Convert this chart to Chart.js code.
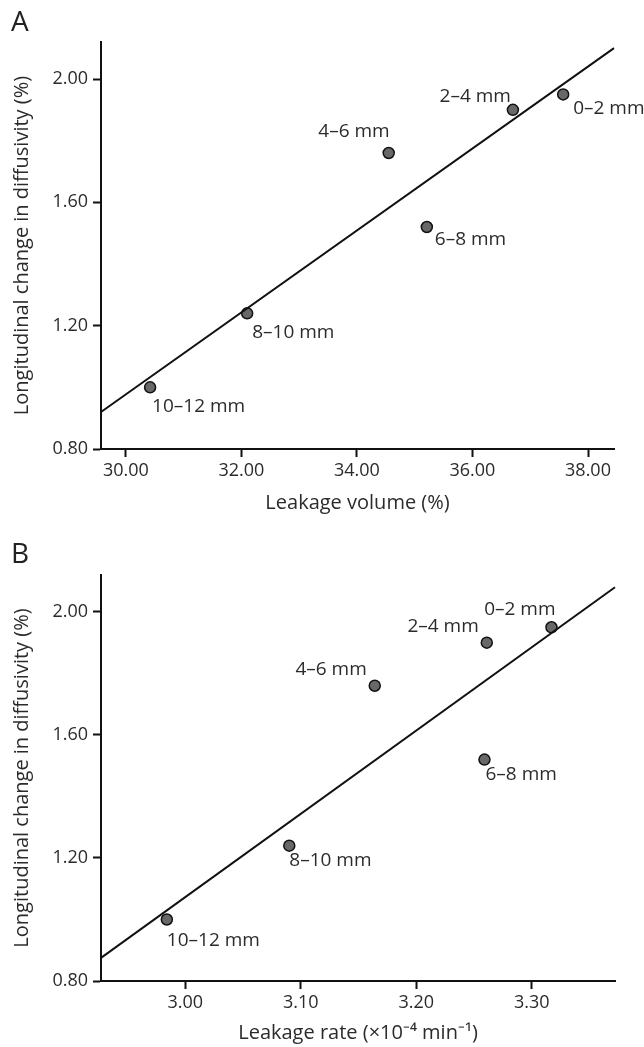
<!DOCTYPE html>
<html>
<head>
<meta charset="utf-8">
<script src="https://cdn.jsdelivr.net/npm/chart.js@4.4.1/dist/chart.umd.min.js"></script>
<style>
  html, body { margin: 0; padding: 0; background: #fff; }
  body { width: 644px; height: 1047px; position: relative; overflow: hidden; font-family: "Open Sans", sans-serif; }
  .panel { position: absolute; left: 0; width: 644px; }
  .tag { position: absolute; left: 11px; font-size: 28px; line-height: 1; color: #222; }
</style>
</head>
<body>
<div class="panel" style="top:0;height:523px"><canvas id="chartA" width="644" height="523"></canvas></div>
<div class="panel" style="top:523px;height:524px"><canvas id="chartB" width="644" height="524"></canvas></div>
<div class="tag" style="top:6px">A</div>
<div class="tag" style="top:538px">B</div>
<script>
  // Segmentos (distancia) y valores
  const segments = ['0–2 mm', '2–4 mm', '4–6 mm', '6–8 mm', '8–10 mm', '10–12 mm'];
  const diffusivity = [1.95, 1.90, 1.76, 1.52, 1.24, 1.00];
  const leakageVolume = [37.57, 36.70, 34.55, 35.21, 32.10, 30.42];
  const leakageRate = [3.317, 3.261, 3.164, 3.259, 3.090, 2.984];

  // Rectas de ajuste (extremos)
  const fitVolumeX = [29.57, 38.45];
  const fitVolumeY = [0.92, 2.10];
  const fitRateX = [2.927, 3.372];
  const fitRateY = [0.875, 2.08];

  // Marcas de los ejes
  const diffusivityTicks = [0.80, 1.20, 1.60, 2.00];
  const volumeTicks = [30, 32, 34, 36, 38];
  const rateTicks = [3.00, 3.10, 3.20, 3.30];

  const TEXT = '#2b2b2b';
  const FONT = '"Open Sans", sans-serif';

  // posición de cada etiqueta respecto a su punto: [dx, dy, align]
  const placeA = [[10, 14, 'left'], [-2, -13, 'right'], [1, -21, 'right'], [8, 13, 'left'], [5, 19, 'left'], [2, 19, 'left']];
  const placeB = [[4, -18, 'right'], [-8, -16, 'right'], [-8, -16, 'right'], [1, 15, 'left'], [0, 15, 'left'], [0, 21, 'left']];

  const pointLabels = {
    id: 'pointLabels',
    afterDatasetsDraw(chart, args, opts) {
      const meta = chart.getDatasetMeta(1);
      const ctx = chart.ctx;
      ctx.save();
      ctx.font = '19px ' + FONT;
      ctx.fillStyle = TEXT;
      ctx.textBaseline = 'middle';
      meta.data.forEach((pt, i) => {
        const p = opts.place[i];
        ctx.textAlign = p[2];
        ctx.fillText(segments[i], pt.x + p[0], pt.y + p[1]);
      });
      ctx.restore();
    }
  };

  function axisBase() {
    return {
      border: { display: true, color: '#111', width: 2 },
      grid: { drawOnChartArea: false, drawTicks: true, tickLength: 8, tickWidth: 2, tickColor: '#111' },
      ticks: { color: TEXT, font: { family: FONT, size: 18 }, padding: 3, callback: v => Number(v).toFixed(2) }
    };
  }

  function makeChart(id, xs, fitX, fitY, xTicks, xTitle, pad, xHeight, titlePad, place) {
    const xAxis = axisBase();
    const yAxis = axisBase();
    Object.assign(xAxis, {
      type: 'linear', min: fitX[0], max: fitX[1],
      title: { display: true, text: xTitle, color: TEXT, font: { family: FONT, size: 20 }, padding: { top: 0, bottom: titlePad } },
      afterBuildTicks: s => { s.ticks = xTicks.map(v => ({ value: v })); },
      afterFit: s => { s.height = xHeight; }
    });
    Object.assign(yAxis, {
      type: 'linear', min: 0.80, max: 2.12,
      title: { display: true, text: 'Longitudinal change in diffusivity (%)', color: TEXT, font: { family: FONT, size: 20 }, padding: { top: 2, bottom: 0 } },
      afterBuildTicks: s => { s.ticks = diffusivityTicks.map(v => ({ value: v })); },
      afterFit: s => { s.width = 101 - pad.left; }
    });
    yAxis.ticks.padding = 5;

    return new Chart(document.getElementById(id), {
      type: 'scatter',
      data: {
        datasets: [
          {
            type: 'line',
            data: fitX.map((x, i) => ({ x: x, y: fitY[i] })),
            borderColor: '#111',
            borderWidth: 2,
            pointRadius: 0,
            fill: false,
            clip: false
          },
          {
            data: xs.map((x, i) => ({ x: x, y: diffusivity[i] })),
            pointRadius: 5.5,
            pointBackgroundColor: '#686868',
            pointBorderColor: '#111',
            pointBorderWidth: 1.5
          }
        ]
      },
      options: {
        responsive: false,
        animation: false,
        layout: { padding: pad },
        plugins: {
          legend: { display: false },
          tooltip: { enabled: false },
          pointLabels: { place: place }
        },
        scales: { x: xAxis, y: yAxis }
      },
      plugins: [pointLabels]
    });
  }

  makeChart('chartA', leakageVolume, fitVolumeX, fitVolumeY, volumeTicks, 'Leakage volume (%)',
    { left: 8, top: 42, right: 30, bottom: 4 }, 70, 4, placeA);
  makeChart('chartB', leakageRate, fitRateX, fitRateY, rateTicks, 'Leakage rate (×10⁻⁴ min⁻¹)',
    { left: 8, top: 52, right: 29, bottom: 0 }, 66, 2, placeB);
</script>
</body>
</html>
